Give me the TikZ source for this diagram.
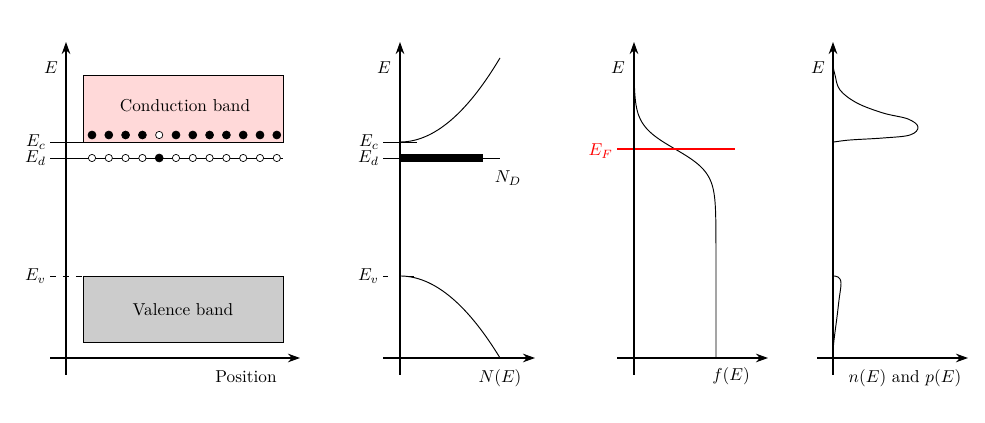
\documentclass[tikz,border=0pt]{standalone}
\usetikzlibrary{arrows.meta}
\begin{document}
\begin{tikzpicture}[x=0.58pt,y=-0.58pt,
  axis/.style={line width=0.6pt,-{Stealth[length=7pt,width=5pt]}},
  thinline/.style={line width=0.5pt},
  curve/.style={line width=0.55pt},
  lbl/.style={inner sep=1pt},
  fdot/.style={circle,fill=black,draw=black,line width=0.4pt,minimum size=4.6pt,inner sep=0pt},
  hdot/.style={circle,fill=white,draw=black,line width=0.4pt,minimum size=4.2pt,inner sep=0pt},
  vdash/.style={line width=0.5pt,dash pattern=on 3.5pt off 4pt}]
\useasboundingbox (0,0) rectangle (985,423);

% ---------- Panel 1 ----------
\draw[thinline,fill=red!15] (83,75) rectangle (283,142);
\node[lbl] (cb) at (185,106) {Conduction band};
\draw[thinline,fill=black!20] (83,276) rectangle (283,342);
\node[lbl] (vb) at (183,310) {Valence band};
\draw[thinline] (50,142) -- (83,142);
\draw[thinline] (50,158) -- (283,158);
\draw[vdash] (50,276) -- (83,276);
\foreach \i in {0,...,11} {
  \ifnum\i=4
    \node[hdot] (c\i) at ({92+16.8*\i},135) {};
    \node[fdot] (d\i) at ({92+16.8*\i},158) {};
  \else
    \node[fdot] (c\i) at ({92+16.8*\i},135) {};
    \node[hdot] (d\i) at ({92+16.8*\i},158) {};
  \fi
}
\draw[axis] (66,375) -- (66,42);
\draw[axis] (50,358) -- (300,358);
\node[lbl] (E1) at (51,68) {$E$};
\node[lbl,anchor=east] (Ec1) at (48,142) {$E_c$};
\node[lbl,anchor=east] (Ed1) at (48,158) {$E_d$};
\node[lbl,anchor=east] (Ev1) at (48,276) {$E_v$};
\node[lbl] (pos) at (246,377) {Position};

% ---------- Panel 2 ----------
\draw[thinline] (383,142) -- (417,142);
\draw[thinline] (383,158) -- (500,158);
\draw[line width=0.5pt,dash pattern=on 3pt off 12pt] (383,276) -- (420,276);
\fill (400,154) rectangle (483,162);
\draw[curve] plot[variable=\t,domain=400:500,samples=60] (\t,{142-0.0084*(\t-400)^2});
\draw[curve] plot[variable=\t,domain=400:500,samples=60] (\t,{276+0.0082*(\t-400)^2});
\draw[axis] (400,375) -- (400,42);
\draw[axis] (383,358) -- (535,358);
\node[lbl] (E2) at (384,68) {$E$};
\node[lbl,anchor=east] (Ec2) at (381,142) {$E_c$};
\node[lbl,anchor=east] (Ed2) at (381,158) {$E_d$};
\node[lbl,anchor=east] (Ev2) at (381,276) {$E_v$};
\node[lbl] (ND) at (508,178) {$N_D$};
\node[lbl] (NE) at (500,378) {$N(E)$};

% ---------- Panel 3 ----------
\draw[curve] plot[variable=\t,domain=68:358,samples=200] ({634+82/(1+exp((149-\t)/12))},\t);
\draw[red,line width=0.7pt] (617,149) -- (735,149);
\draw[axis] (634,375) -- (634,42);
\draw[axis] (617,358) -- (768,358);
\node[lbl] (E3) at (618,68) {$E$};
\node[lbl,anchor=east,text=red] (EF) at (615,151) {$E_F$};
\node[lbl] (fE) at (731,376) {$f(E)$};

% ---------- Panel 4 ----------
\draw[curve] plot[smooth,tension=0.6] coordinates {(833,66) (835,75) (840,90) (857,103) (883,113) (908,119) (918,127) (910,135) (883,138) (850,140) (834,142)};
\draw[curve] plot[smooth,tension=0.6] coordinates {(833,276) (838,277) (841,283) (839,300) (837,317) (834,340) (833,352)};
\draw[axis] (833,375) -- (833,42);
\draw[axis] (817,358) -- (968,358);
\node[lbl] (E4) at (818,68) {$E$};
\node[lbl] (np) at (905,378) {$n(E)$ and $p(E)$};
\end{tikzpicture}
\end{document}
